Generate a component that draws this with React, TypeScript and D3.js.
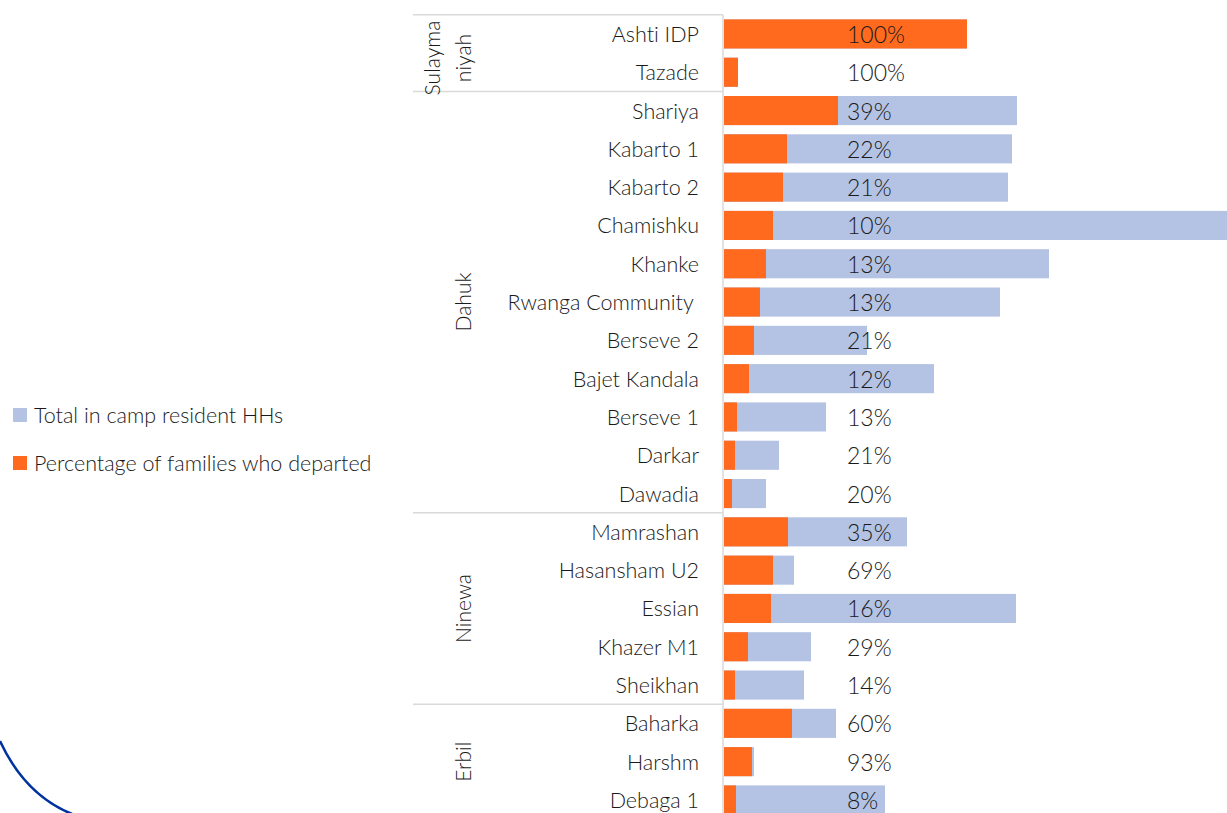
import React from "react";
import * as d3 from "d3";

const camps = [
  "Ashti IDP", "Tazade", "Shariya", "Kabarto 1", "Kabarto 2", "Chamishku", "Khanke",
  "Rwanga Community ", "Berseve 2", "Bajet Kandala", "Berseve 1", "Darkar", "Dawadia",
  "Mamrashan", "Hasansham U2", "Essian", "Khazer M1", "Sheikhan",
  "Baharka", "Harshm", "Debaga 1",
];
const totalHHs = [
  2430, 140, 2930, 2880, 2840, 5030, 3250, 2760, 1430, 2100, 1020, 550, 420,
  1830, 700, 2920, 870, 800, 1120, 300, 1610,
];
const departedHHs = [
  2430, 140, 1140, 630, 590, 490, 420, 360, 300, 250, 130, 110, 80,
  640, 490, 470, 240, 110, 680, 280, 120,
];
const pctLabels = [
  "100%", "100%", "39%", "22%", "21%", "10%", "13%", "13%", "21%", "12%", "13%", "21%", "20%",
  "35%", "69%", "16%", "29%", "14%", "60%", "93%", "8%",
];
const groupNames = [["Sulayma", "niyah"], ["Dahuk"], ["Ninewa"], ["Erbil"]];
const groupSizes = [2, 11, 5, 3];
const legendLabels = ["Total in camp resident HHs", "Percentage of families who departed"];

const W = 1227;
const H = 813;
const ORANGE = "#FF6A1F";
const BLUE = "#B4C3E3";
const GRID = "#D9D9D9";
const FONT = "Lato, 'Open Sans', sans-serif";
const TEXT = "#1a1a1a";

export default function App() {
  const top = 14.8;
  const band = 38.3;
  const y = d3
    .scaleBand<string>()
    .domain(camps)
    .range([top, top + band * camps.length])
    .paddingInner(0.24)
    .paddingOuter(0.12);
  const x = d3.scaleLinear().domain([0, 5000]).range([724, 1224]);
  const rowCenter = (c: string) => (y(c) as number) + y.bandwidth() / 2;

  const bounds: number[] = [top];
  let acc = 0;
  groupSizes.forEach((s) => {
    acc += s;
    bounds.push(top + band * acc);
  });

  const textStyle: React.CSSProperties = { fontVariantLigatures: "none", whiteSpace: "pre" };

  return (
    <svg
      width={W}
      height={H}
      style={{ position: "absolute", left: 0, top: 0, background: "#fff" }}
      fontFamily={FONT}
      fontWeight={300}
    >
      <rect x={0} y={0} width={W} height={H} fill="#fff" />
      <path d="M0,741 Q25,795 72,814" fill="none" stroke="#0033A0" strokeWidth={2.5} />

      {bounds.slice(0, -1).map((b, i) => (
        <line key={"sep" + i} x1={413} x2={723} y1={b} y2={b} stroke={GRID} strokeWidth={1.5} />
      ))}
      <line x1={723} x2={723} y1={top} y2={H} stroke={GRID} strokeWidth={1.5} />

      {camps.map((c, i) => (
        <g key={c}>
          <rect x={x(0)} y={y(c)} width={x(totalHHs[i]) - x(0)} height={y.bandwidth()} fill={BLUE} />
          <rect x={x(0)} y={y(c)} width={x(departedHHs[i]) - x(0)} height={y.bandwidth()} fill={ORANGE} />
        </g>
      ))}

      {camps.map((c, i) => (
        <text
          key={"p" + c}
          x={847}
          y={rowCenter(c)}
          dominantBaseline="central"
          fontSize={23}
          fill={TEXT}
          style={textStyle}
        >
          {pctLabels[i]}
        </text>
      ))}

      {camps.map((c) => (
        <text
          key={"c" + c}
          x={699}
          y={rowCenter(c)}
          textAnchor="end"
          dominantBaseline="central"
          fontSize={21.5}
          fill={TEXT}
          style={textStyle}
        >
          {c}
        </text>
      ))}

      {groupNames.map((lines, gi) => {
        const cy = gi === 0 ? 58 : (bounds[gi] + bounds[gi + 1]) / 2;
        return lines.map((ln, li) => {
          const cx = lines.length === 1 ? 462 : 431 + li * 31;
          return (
            <text
              key={"g" + gi + li}
              transform={`translate(${cx},${cy}) rotate(-90)`}
              textAnchor="middle"
              dominantBaseline="central"
              fontSize={21}
              fill={TEXT}
              style={textStyle}
            >
              {ln}
            </text>
          );
        });
      })}

      {legendLabels.map((l, i) => (
        <g key={"l" + i} transform={`translate(13,${415 + i * 48})`}>
          <rect x={0} y={-7} width={14} height={14} fill={i === 0 ? BLUE : ORANGE} />
          <text x={21} y={0} dominantBaseline="central" fontSize={21.5} fill={TEXT} style={textStyle}>
            {l}
          </text>
        </g>
      ))}
    </svg>
  );
}
